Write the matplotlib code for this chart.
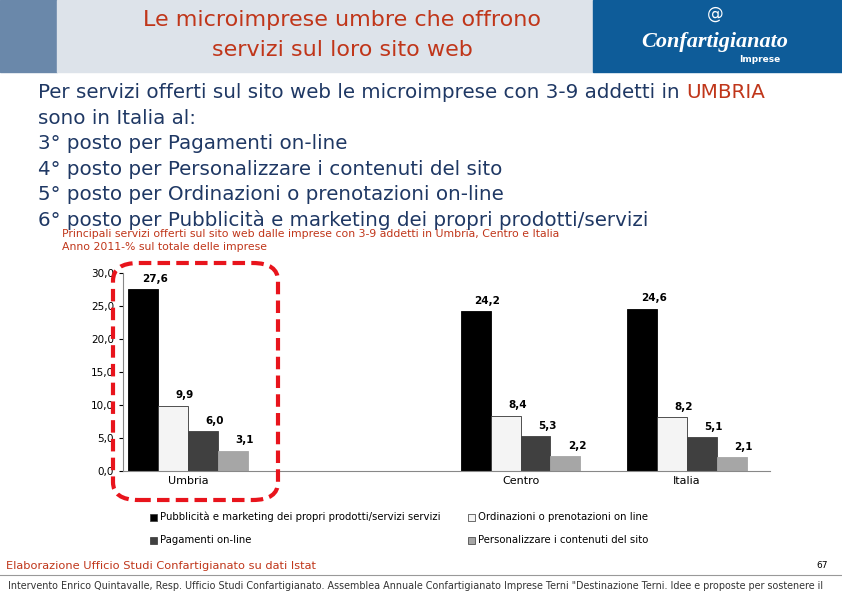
import numpy as np
import matplotlib.pyplot as plt
from matplotlib.patches import Rectangle, FancyBboxPatch

categories = ["Umbria", "", "Centro", "Italia"]
series_names = ["Pubblicità e marketing dei propri prodotti/servizi servizi",
                "Ordinazioni o prenotazioni on line",
                "Pagamenti on-line",
                "Personalizzare i contenuti del sito"]
values = [
    [27.6, np.nan, 24.2, 24.6],
    [9.9, np.nan, 8.4, 8.2],
    [6.0, np.nan, 5.3, 5.1],
    [3.1, np.nan, 2.2, 2.1],
]
yticks = [0.0, 5.0, 10.0, 15.0, 20.0, 25.0, 30.0]
colors = ["#000000", "#f4f4f4", "#404040", "#a6a6a6"]

W, H = 842, 595
fig = plt.figure(figsize=(W / 100, H / 100), dpi=100)

def fx(px):
    return px / W

def fy(py):
    return 1 - py / H

# header band
fig.patches.append(Rectangle((0, fy(72)), fx(57), 72 / H, transform=fig.transFigure, color="#6a88aa"))
fig.patches.append(Rectangle((fx(57), fy(72)), fx(536), 72 / H, transform=fig.transFigure, color="#dde3ea"))
fig.patches.append(Rectangle((fx(593), fy(72)), fx(249), 72 / H, transform=fig.transFigure, color="#0e5c99"))
fig.text(fx(342), fy(20), "Le microimprese umbre che offrono", ha="center", va="center",
         color="#c0361a", fontsize=16)
fig.text(fx(342), fy(50), "servizi sul loro sito web", ha="center", va="center",
         color="#c0361a", fontsize=16)
fig.text(fx(715), fy(14), "@", ha="center", va="center", color="white", fontsize=12)
fig.text(fx(715), fy(42), "Confartigianato", ha="center", va="center", color="white",
         fontsize=16, style="italic", weight="bold", family="Liberation Serif")
fig.text(fx(760), fy(60), "Imprese", ha="center", va="center", color="white", fontsize=6.5, weight="bold")

# body text
blue = "#1f3864"
lines = ["sono in Italia al:",
         "3° posto per Pagamenti on-line",
         "4° posto per Personalizzare i contenuti del sito",
         "5° posto per Ordinazioni o prenotazioni on-line",
         "6° posto per Pubblicità e marketing dei propri prodotti/servizi"]
t = fig.text(fx(38), fy(92), "Per servizi offerti sul sito web le microimprese con 3-9 addetti in ",
             va="center", color=blue, fontsize=14.3)
fig.canvas.draw()
bb = t.get_window_extent()
fig.text(bb.x1 / W, fy(92), "UMBRIA", va="center", color="#c0361a", fontsize=14.3)
for i, ln in enumerate(lines):
    fig.text(fx(38), fy(118 + 25.6 * i), ln, va="center", color=blue, fontsize=14.3)

fig.text(fx(62), fy(234), "Principali servizi offerti sul sito web dalle imprese con 3-9 addetti in Umbria, Centro e Italia",
         va="center", color="#c0361a", fontsize=7.8)
fig.text(fx(62), fy(247), "Anno 2011-% sul totale delle imprese", va="center", color="#c0361a", fontsize=7.8)

# chart
ax = fig.add_axes([fx(123), fy(471), fx(770 - 123), (471 - 273) / H])
x = np.arange(len(categories))
bw = 0.18
for i in range(4):
    pos = x + (i - 1.5) * bw
    ax.bar(pos, values[i], bw, color=colors[i], edgecolor="#333333" if i == 1 else colors[i], linewidth=0.6)
    for p, v in zip(pos, values[i]):
        if not np.isnan(v):
            ax.text(p + 0.07, v + 0.8, f"{v:.1f}".replace(".", ","), ha="center", va="bottom",
                    fontsize=7.5, weight="bold")
ax.set_xlim(-0.39, 3.5)
ax.set_ylim(0, 30)
ax.set_yticks(yticks)
ax.set_yticklabels([f"{v:.1f}".replace(".", ",") for v in yticks], fontsize=7.5)
ax.set_xticks(x)
ax.set_xticklabels(categories, fontsize=8)
ax.tick_params(axis="x", length=0)
ax.tick_params(axis="y", length=3)
for s in ["top", "right"]:
    ax.spines[s].set_visible(False)
ax.spines["left"].set_color("#888888")
ax.spines["bottom"].set_color("#888888")

# red dashed highlight
fig.patches.append(FancyBboxPatch((fx(113), fy(500)), fx(165), (500 - 263) / H,
                                  boxstyle="round,pad=0,rounding_size=0.03",
                                  transform=fig.transFigure, fill=False,
                                  edgecolor="#e8141c", linewidth=3, linestyle=(0, (3, 1.5))))

# legend
leg_pos = [(150, 517), (468, 517), (150, 540), (468, 540)]
for (lx, ly), name, c in zip(leg_pos, series_names, colors):
    fig.patches.append(Rectangle((fx(lx), fy(ly + 4)), fx(7), 7 / H, transform=fig.transFigure,
                                 facecolor=c, edgecolor="#333333", linewidth=0.5))
    fig.text(fx(lx + 10), fy(ly), name, va="center", fontsize=7.3)

# footer
fig.text(fx(6), fy(566), "Elaborazione Ufficio Studi Confartigianato su dati Istat", va="center",
         color="#c0361a", fontsize=8.2)
fig.text(fx(828), fy(566), "67", va="center", ha="right", fontsize=6.5)
fig.lines.append(plt.Line2D([0, 1], [fy(575), fy(575)], transform=fig.transFigure, color="#999999", linewidth=0.8))
fig.text(fx(8), fy(586), "Intervento Enrico Quintavalle, Resp. Ufficio Studi Confartigianato. Assemblea Annuale Confartigianato Imprese Terni \"Destinazione Terni. Idee e proposte per sostenere il",
         va="center", fontsize=6.9, color="#333333")

fig.savefig("out.png", dpi=100)
